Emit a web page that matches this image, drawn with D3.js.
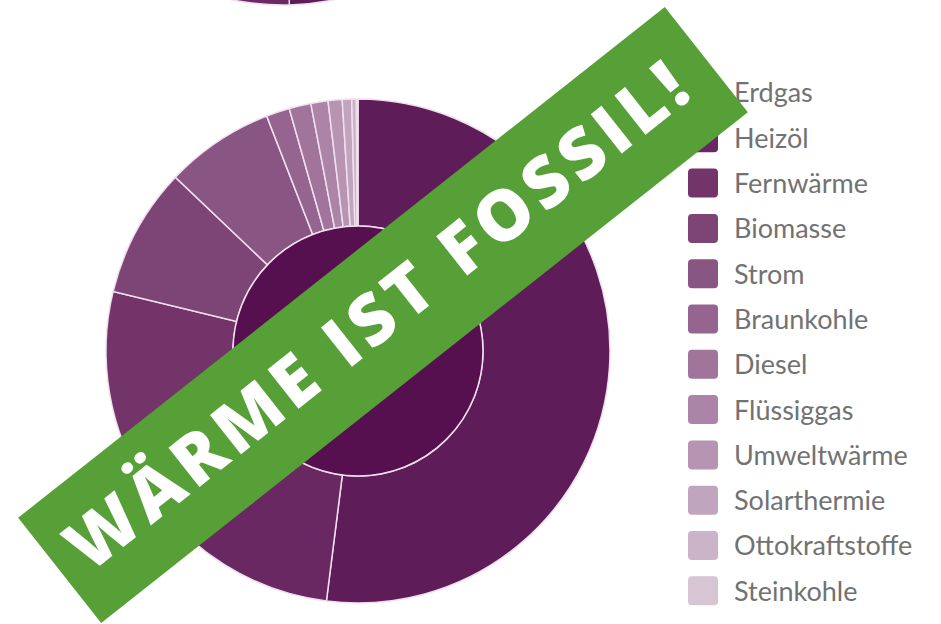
<!DOCTYPE html>
<html>
<head>
<meta charset="utf-8">
<script src="https://cdn.jsdelivr.net/npm/d3@7"></script>
<style>
  body { margin: 0; background: #fff; }
  svg { display: block; }
</style>
</head>
<body>
<div id="chart"></div>
<script>
// categories (legend order = slice order, clockwise from 12 o'clock)
var categories = ["Erdgas", "Heizöl", "Fernwärme", "Biomasse", "Strom", "Braunkohle",
  "Diesel", "Flüssiggas", "Umweltwärme", "Solarthermie", "Ottokraftstoffe", "Steinkohle"];

// share in percent
var shares = [52.0, 13.8, 13.0, 8.3, 7.0, 1.5, 1.4, 1.1, 0.9, 0.6, 0.3, 0.1];

var colors = ["#5e1d58", "#692862", "#733569", "#7d4576", "#895583", "#95658f",
  "#a0749b", "#ab84a7", "#b694b2", "#c1a4bd", "#ccb4c8", "#d8c5d4"];

// inner ring: single total
var innerValues = [100];

// bottom edge of the chart above (cut off)
var topValues = [49.6, 50.4];
var topColors = ["#5e1d58", "#6b2a64"];

var bannerText = "WÄRME IST FOSSIL!";

var W = 941, H = 624;
var cx = 358, cy = 351, rOuter = 252, rInner = 125;

var svg = d3.select("#chart").append("svg")
  .attr("width", W)
  .attr("height", H);

var pie = d3.pie().sort(null).value(function(d) { return d; });

// chart above, only its lower rim is visible
var gTop = svg.append("g").attr("transform", "translate(283,-247)");
gTop.selectAll("path")
  .data(pie(topValues))
  .enter().append("path")
    .attr("d", d3.arc().innerRadius(rInner).outerRadius(rOuter))
    .attr("fill", function(d, i) { return topColors[i]; })
    .attr("stroke", "#f1dff0")
    .attr("stroke-width", 1.5);

var g = svg.append("g").attr("transform", "translate(" + cx + "," + cy + ")");

// outer ring
g.selectAll("path.outer")
  .data(pie(shares))
  .enter().append("path")
    .attr("class", "outer")
    .attr("d", d3.arc().innerRadius(rInner).outerRadius(rOuter))
    .attr("fill", function(d, i) { return colors[i]; })
    .attr("stroke", "#f1dff0")
    .attr("stroke-width", 1.5);

// inner disc
g.selectAll("path.inner")
  .data(pie(innerValues))
  .enter().append("path")
    .attr("class", "inner")
    .attr("d", d3.arc().innerRadius(0).outerRadius(rInner))
    .attr("fill", "#560f4f")
    .attr("stroke", "#f1dff0")
    .attr("stroke-width", 1.5);

// legend
var legend = svg.append("g").attr("transform", "translate(688,78)");
var row = legend.selectAll("g")
  .data(categories)
  .enter().append("g")
    .attr("transform", function(d, i) { return "translate(0," + (i * 45.3) + ")"; });

row.append("rect")
  .attr("width", 30)
  .attr("height", 29)
  .attr("rx", 4)
  .attr("fill", function(d, i) { return colors[i]; });

row.append("text")
  .attr("x", 46)
  .attr("y", 15)
  .attr("dy", "0.35em")
  .attr("font-family", "Lato, sans-serif")
  .attr("font-size", 27)
  .attr("fill", "#727272")
  .text(function(d) { return d; });

// green banner on top
var banner = svg.append("g")
  .attr("transform", "translate(383,315) rotate(-38.3)");

banner.append("rect")
  .attr("x", -412)
  .attr("y", -67)
  .attr("width", 824)
  .attr("height", 134)
  .attr("fill", "#579f37");

banner.append("text")
  .attr("x", -6)
  .attr("y", -4)
  .attr("dy", "0.36em")
  .attr("text-anchor", "middle")
  .attr("font-family", "'Open Sans', sans-serif")
  .attr("font-weight", 800)
  .attr("font-size", 70)
  .attr("fill", "#fff")
  .attr("textLength", 770)
  .attr("lengthAdjust", "spacing")
  .text(bannerText);
</script>
</body>
</html>
